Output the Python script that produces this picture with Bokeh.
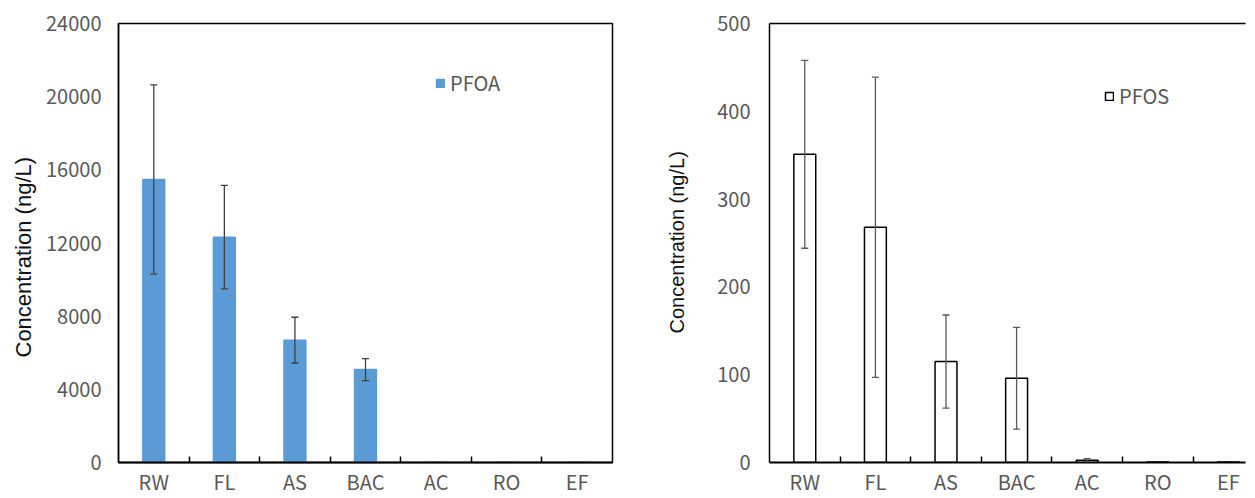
from bokeh.plotting import figure
from bokeh.models import (ColumnDataSource, FixedTicker, Whisker, TeeHead, Legend,
                          LegendItem, LinearAxis, Range1d, Title)
from bokeh.layouts import row
from bokeh.embed import file_html
from bokeh.resources import INLINE

categories = ["RW", "FL", "AS", "BAC", "AC", "RO", "EF"]
pfoa_mean = [15470, 12320, 6690, 5080, 0, 0, 0]
pfoa_sd = [5170, 2825, 1250, 600, 0, 0, 0]
pfos_mean = [351, 268, 115, 96, 2.7, 0.5, 0.5]
pfos_sd = [107, 171, 53, 58, 1.8, 0, 0]
pfoa_ticks = [0, 4000, 8000, 12000, 16000, 20000, 24000]
pfos_ticks = [0, 100, 200, 300, 400, 500]
y_title = "Concentration (ng/L)"

TICK_FONT = "Noto Sans CJK JP"
TICK_COLOR = "#595959"


def make_chart(name, means, sds, yticks, ymax, width, border_left, border_right,
               x_end, fill, line, err_color, legend_loc, outline, label_standoff,
               title_offset, title_size):
    n = len(categories)
    xs = [i + 0.5 for i in range(n)]
    src = ColumnDataSource(dict(x=xs, top=means))
    p = figure(width=width, height=498, output_backend="svg", toolbar_location=None,
               x_range=Range1d(0, x_end), y_range=Range1d(0, ymax),
               min_border_left=border_left, min_border_right=border_right,
               min_border_top=23, min_border_bottom=36)
    p.background_fill_color = "white"
    p.border_fill_color = "white"
    p.xgrid.grid_line_color = None
    p.ygrid.grid_line_color = None

    r = p.vbar(x="x", top="top", width=0.31, source=src, fill_color=fill,
               line_color=line, line_width=1.5)

    wx = [x for x, s in zip(xs, sds) if s > 0]
    wu = [m + s for m, s in zip(means, sds) if s > 0]
    wl = [m - s for m, s in zip(means, sds) if s > 0]
    wsrc = ColumnDataSource(dict(x=wx, upper=wu, lower=wl))
    w = Whisker(source=wsrc, base="x", upper="upper", lower="lower", dimension="height",
                line_color=err_color, line_width=1.3, level="overlay",
                upper_head=TeeHead(size=7, line_color=err_color, line_width=1.3),
                lower_head=TeeHead(size=7, line_color=err_color, line_width=1.3))
    p.add_layout(w)

    xa = p.below[0]
    xa.ticker = FixedTicker(ticks=xs, minor_ticks=list(range(1, n)))
    xa.major_label_overrides = {x: c for x, c in zip(xs, categories)}
    xa.major_tick_in = 0
    xa.major_tick_out = 0
    xa.minor_tick_in = 6
    xa.minor_tick_out = 0
    xa.minor_tick_line_color = "black"
    xa.minor_tick_line_width = 1.5
    xa.axis_line_color = "black"
    xa.axis_line_width = 2
    xa.major_label_text_font = TICK_FONT
    xa.major_label_text_font_size = "20px"
    xa.major_label_text_color = TICK_COLOR
    xa.major_label_standoff = 4
    xa.axis_label_standoff = 0

    ya = p.left[0]
    ya.ticker = FixedTicker(ticks=yticks)
    ya.major_tick_in = 0
    ya.major_tick_out = 0
    ya.minor_tick_line_color = None
    ya.axis_line_color = "black"
    ya.axis_line_width = 1.5
    ya.major_label_text_font = TICK_FONT
    ya.major_label_text_font_size = "20px"
    ya.major_label_text_color = TICK_COLOR
    ya.major_label_standoff = label_standoff[0]
    ya.axis_label_standoff = 0

    t = Title(text=y_title, align="left", offset=title_offset,
              text_font="Liberation Sans", text_font_size=title_size,
              text_font_style="normal", text_color="#111111",
              standoff=label_standoff[1])
    p.add_layout(t, "left")

    if outline:
        p.outline_line_color = "black"
        p.outline_line_width = 1.5
    else:
        p.outline_line_color = None
        top_ax = LinearAxis(ticker=FixedTicker(ticks=[]), axis_line_color="black",
                            axis_line_width=1.5, major_label_text_font_size="0px",
                            major_tick_line_color=None, minor_tick_line_color=None,
                            major_label_standoff=0, axis_label_standoff=0)
        p.add_layout(top_ax, "above")

    legend = Legend(items=[LegendItem(label=name, renderers=[r])], location=legend_loc,
                    border_line_color=None, background_fill_alpha=0, padding=0, margin=0,
                    glyph_width=10, glyph_height=10, label_standoff=5,
                    label_text_font=TICK_FONT, label_text_font_size="20px",
                    label_text_color=TICK_COLOR)
    p.add_layout(legend)
    return p


left = make_chart("PFOA", pfoa_mean, pfoa_sd, pfoa_ticks, 24000, 632, 118, 20, 7,
                  "#5B9BD5", "#5B9BD5", "#404040", (317, 365), True, (17, 15), 105,
                  "22px")
right = make_chart("PFOS", pfos_mean, pfos_sd, pfos_ticks, 500, 623, 137, 10, 476 / 70.6,
                   "white", "black", "#595959", (335, 352), False, (19, 53), 129,
                   "20px")

layout = row(left, right)
open("out.html", "w").write(file_html(layout, INLINE))
